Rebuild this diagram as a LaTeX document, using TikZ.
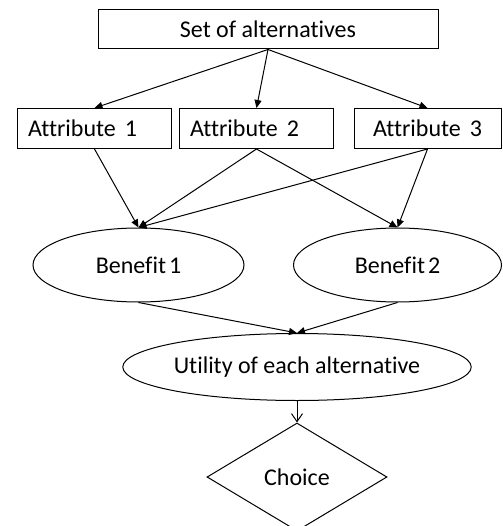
\documentclass[tikz,border=0pt]{standalone}
\usepackage{fontspec}
\setmainfont[Ligatures=NoCommon]{Carlito}
\usetikzlibrary{shapes.geometric,arrows.meta}

\begin{document}
\begin{tikzpicture}[x=1pt,y=-1pt,line width=1pt,
    font=\fontsize{24}{28}\selectfont,
    box/.style={draw,rectangle,minimum height=40pt,inner ysep=0pt},
    leftbox/.style={box,align=left,inner xsep=10.5pt,text width=133pt},
    oval/.style={draw,ellipse,inner sep=0pt},
    arr/.style={-{Triangle[length=8pt,width=7pt]}}]
    \useasboundingbox (0,0) rectangle (502,526);
    \node[box,minimum width=340pt,minimum height=39pt] (set) at (268,29.5) {Set of alternatives};
    \node[leftbox] (a1) at (94.5,128.5) {Attribute\hspace{9pt}1};
    \node[leftbox] (a2) at (256.5,128.5) {Attribute\hspace{9pt}2};
    \node[box,minimum width=147pt] (a3) at (427.5,128.5) {Attribute\hspace{9pt}3};
    \node[oval,minimum width=211pt,minimum height=74pt] (b1) at (138.5,265) {Benefit\hspace{3pt}1};
    \node[oval,minimum width=208pt,minimum height=74pt] (b2) at (397.5,265) {Benefit\hspace{3pt}2};
    \node[oval,minimum width=300pt,minimum height=67pt] (u) at (297,367) {Utility of each alternative};
    \node[draw,diamond,inner sep=0pt,minimum width=180pt,minimum height=108pt] (c) at (297,477) {Choice};
    \foreach \a in {a1,a2,a3}{
        \draw[arr] (set.south) -- (\a.north);
    }
    \foreach \a/\b in {a1/b1,a2/b1,a3/b1,a2/b2,a3/b2}{
        \draw[arr] (\a.south) -- (\b.north);
    }
    \draw[arr] (b1.south) -- (u.north);
    \draw[arr] (b2.south) -- (u.north);
    \draw[-{Straight Barb[length=8pt,width=11pt]}] (u.south) -- (c.north);
\end{tikzpicture}
\end{document}
